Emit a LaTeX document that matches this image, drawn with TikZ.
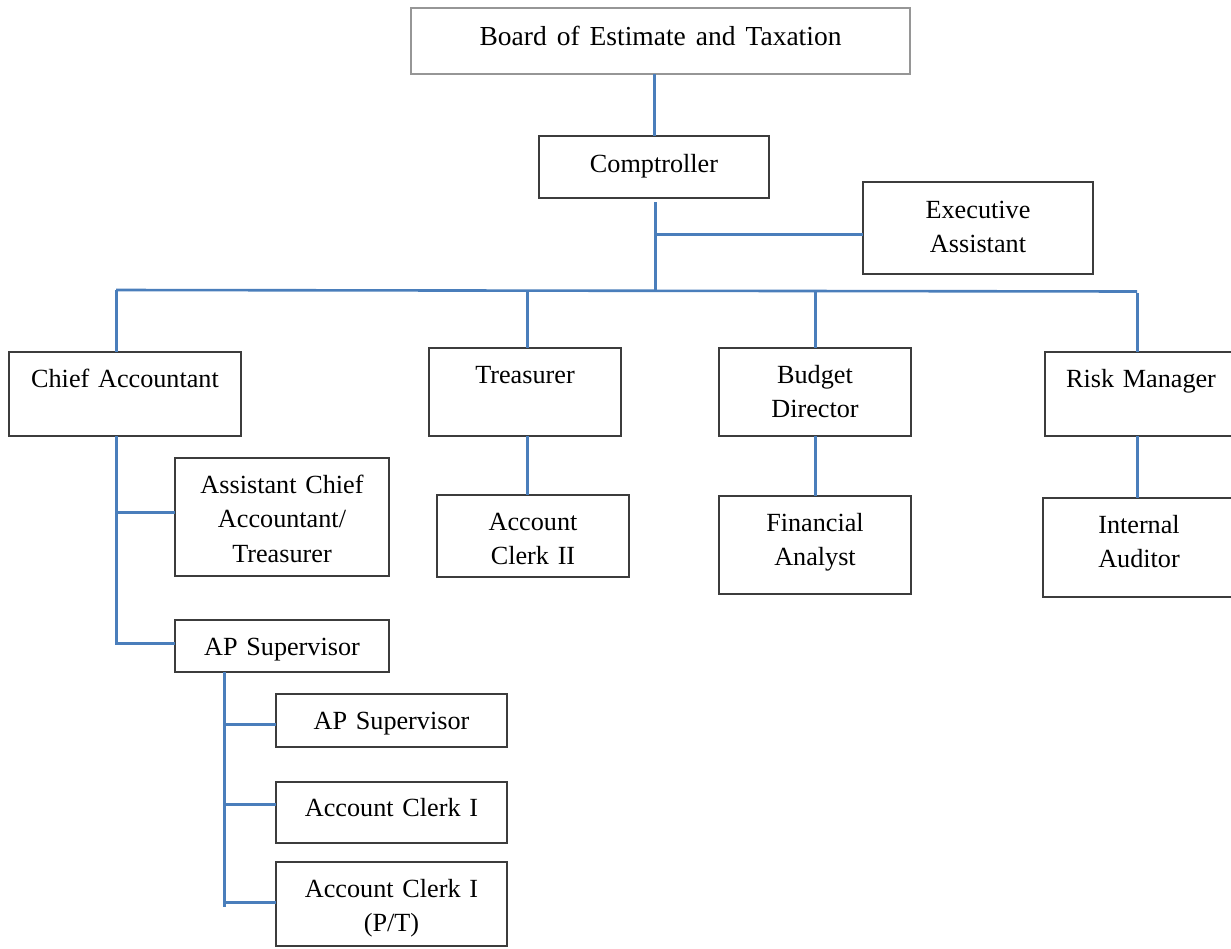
\documentclass[tikz,border=0pt]{standalone}
\usepackage{fontspec}
\setmainfont{Liberation Serif}[WordSpace=1.3]
\usetikzlibrary{calc}

\definecolor{linkblue}{RGB}{74,126,187}
\definecolor{boxline}{RGB}{60,60,60}
\definecolor{boardline}{RGB}{150,150,150}

% #1 extra style, #2 name, #3 left, #4 top, #5 right, #6 bottom,
% #7 baseline of the first text line, #8 text
\newcommand\chartbox[8]{%
  \node[box,#1,minimum width={(#5-#3)*1pt},minimum height={(#6-#4)*1pt}] (#2) at (#3,#4) {};
  \node[lbl] (#2-text) at ({(#3+#5)/2},#7) {#8};
}

\begin{document}
\begin{tikzpicture}[x=1pt,y=-1pt,
  box/.style={draw=boxline, line width=1.3pt, fill=white, inner sep=0pt, outer sep=0pt, anchor=north west},
  board/.style={draw=boardline},
  lbl/.style={font=\fontsize{26.2}{34.6}\selectfont, text width=440pt, align=center, inner sep=0pt, anchor=base},
  link/.style={draw=linkblue, line width=3pt},
  bus/.style={draw=linkblue, line width=2.6pt}]

\fill[white] (0,0) rectangle (1231,948);
\useasboundingbox (0,0) rectangle (1231,948);
\clip (0,0) rectangle (1231,948);

% top of the chart
\chartbox{board}{board}{411}{8}{910}{74}{45}{\fontsize{27.5}{34.6}\selectfont\spaceskip=10pt\relax Board of Estimate and Taxation}
\chartbox{}{comp}{539}{136}{769}{198}{172}{Comptroller}
\chartbox{}{ea}{863}{182}{1093}{274}{218}{Executive\\Assistant}

% department heads
\chartbox{}{ca}{9}{352}{241}{436}{387}{Chief Accountant}
\chartbox{}{tr}{429}{348}{621}{436}{383}{Treasurer}
\chartbox{}{bd}{719}{348}{911}{436}{383}{Budget\\Director}
\chartbox{}{rm}{1045}{352}{1237}{436}{387}{Risk Manager}

% second level
\chartbox{}{aca}{175}{458}{389}{576}{493}{Assistant Chief\\Accountant/\\Treasurer}
\chartbox{}{ac2}{437}{495}{629}{577}{530}{Account\\Clerk II}
\chartbox{}{fa}{719}{496}{911}{594}{531}{Financial\\Analyst}
\chartbox{}{ia}{1043}{498}{1235}{597}{533}{Internal\\Auditor}
\chartbox{}{ap1}{175}{620}{389}{672}{655}{AP Supervisor}

% accounts payable staff
\chartbox{}{ap2}{276}{694}{507}{747}{729}{AP Supervisor}
\chartbox{}{aci}{276}{782}{507}{843}{816.5}{Account Clerk I}
\chartbox{}{acp}{276}{862}{507}{946}{897}{Account Clerk I\\(P/T)}

% junction points
\coordinate (cm-foot) at ($(comp.south)+(1,4)$);
\coordinate (ea-in) at ($(ea.west)+(0,6)$);
\coordinate (busL) at (116,290);
\coordinate (busR) at (1137,291.5);
\coordinate (ca-top) at ($(ca.north)+(-9,0)$);
\coordinate (ca-foot) at ($(ca.south)+(-9,0)$);
\coordinate (tr-top) at ($(tr.north)+(2,0)$);
\coordinate (tr-foot) at ($(tr.south)+(2,0)$);
\coordinate (rm-top) at ($(rm.north)+(-4,0)$);
\coordinate (rm-foot) at ($(rm.south)+(-4,0)$);
\coordinate (aca-in) at ($(aca.west)+(0,-5)$);
\coordinate (ap1-in) at ($(ap1.west)+(0,-3)$);
\coordinate (ap1-foot) at ($(ap1.south)+(-57.5,0)$);
\coordinate (ap2-in) at ($(ap2.west)+(0,4)$);
\coordinate (aci-in) at ($(aci.west)+(0,-8)$);
\coordinate (acp-in) at ($(acp.west)+(0,-2)$);
\coordinate (ap1-end) at ($(ap1-foot |- acp-in)+(0,5)$);

% connectors
\draw[link] (board.south -| comp.north) -- (comp.north);
\draw[link] (cm-foot) -- (cm-foot |- busL);
\draw[link] (ea-in) -- (ea-in -| cm-foot);
\draw[bus] (busL) -- (busR);
\draw[link] (busL) -- (ca-top);
\draw[link] (tr-top |- busL) -- (tr-top);
\draw[link] (bd.north |- busL) -- (bd.north);
\draw[link] ($(busR)+(0,1.5)$) -- (rm-top);

\draw[link] (ca-foot) -- (ca-foot |- ap1-in) -- (ap1-in);
\draw[link] (aca-in -| ca-foot) -- (aca-in);
\draw[link] (tr-foot) -- (tr-foot |- ac2.north);
\draw[link] (bd.south) -- (fa.north);
\draw[link] (rm-foot) -- (rm-foot |- ia.north);

\draw[link] (ap1-foot) -- (ap1-end);
\draw[link] (ap2-in -| ap1-foot) -- (ap2-in);
\draw[link] (aci-in -| ap1-foot) -- (aci-in);
\draw[link] (acp-in -| ap1-foot) -- (acp-in);

\end{tikzpicture}
\end{document}
